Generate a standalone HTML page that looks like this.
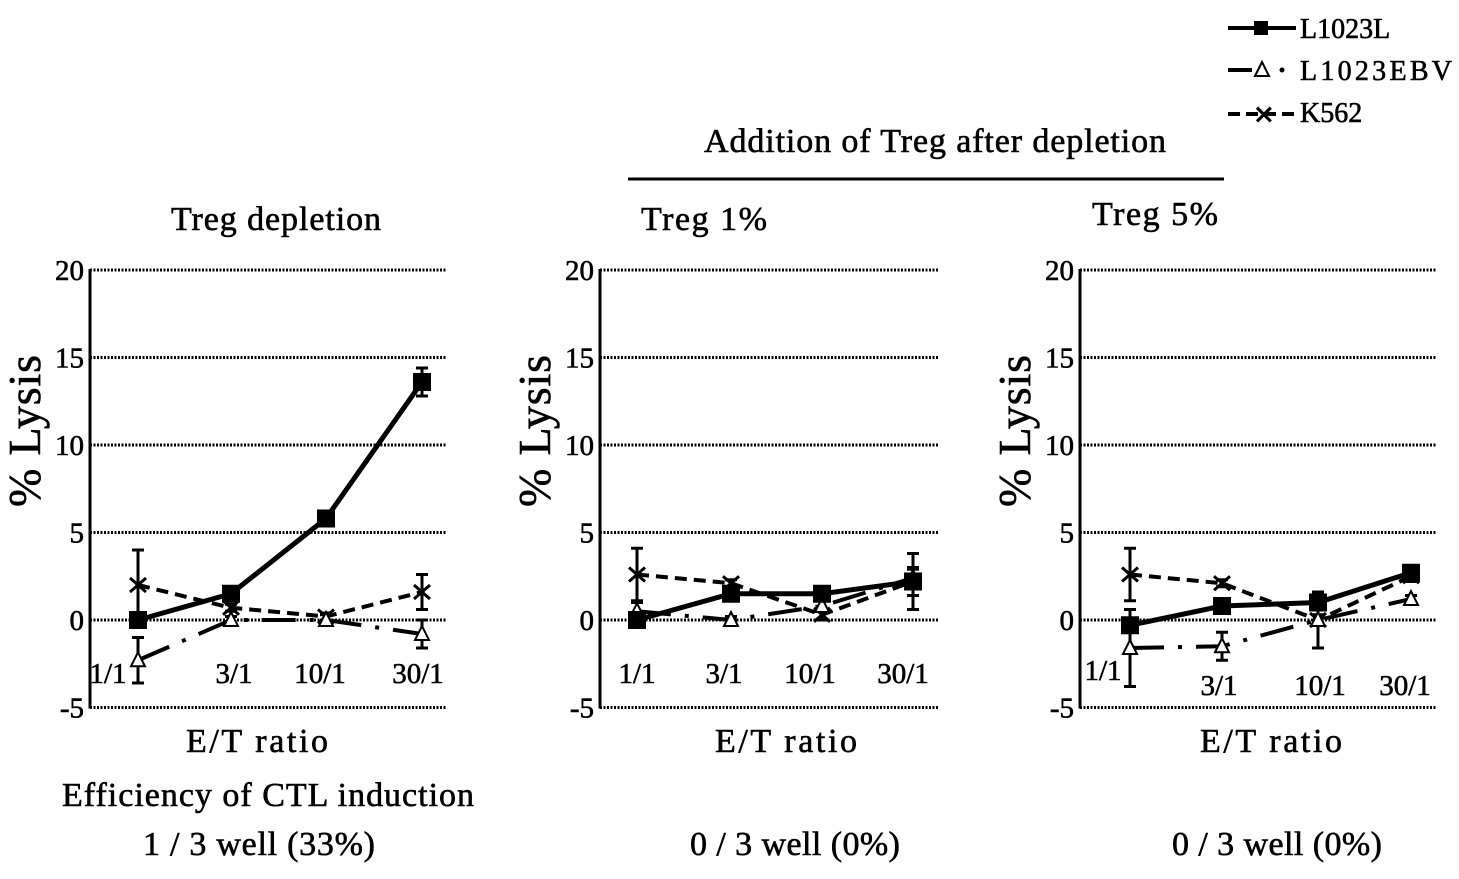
<!DOCTYPE html>
<html><head><meta charset="utf-8"><style>
body{margin:0;background:#fff;}
svg{display:block;font-family:"Liberation Serif",serif;}
text{stroke:#000;stroke-width:0.6px;}
</style></head><body>
<svg id="c" width="1459" height="879">
<g>
<line x1="1228" y1="28" x2="1296" y2="28" stroke="#000" stroke-width="4"/><rect x="1254" y="21" width="14" height="14" fill="#000"/>
<text x="1300" y="38" font-size="28">L1023L</text>
<line x1="1228" y1="70" x2="1252" y2="70" stroke="#000" stroke-width="4"/><polygon points="1262,62 1255,76 1269,76" fill="#fff" stroke="#000" stroke-width="2"/><circle cx="1282" cy="70" r="2.5"/>
<text x="1300" y="80" font-size="28" textLength="152">L1023EBV</text>
<line x1="1228" y1="114" x2="1296" y2="114" stroke="#000" stroke-width="4" stroke-dasharray="12,6"/><text x="1253" y="124" font-size="26">✕</text>
<text x="1300" y="122" font-size="28">K562</text>
</g>
<text x="935" y="152" font-size="34" text-anchor="middle" textLength="462">Addition of Treg after depletion</text>
<line x1="628" y1="179" x2="1224" y2="179" stroke="#000" stroke-width="3"/>
<text x="276" y="230" font-size="34" text-anchor="middle" textLength="210">Treg depletion</text>
<text x="704" y="230" font-size="34" text-anchor="middle" textLength="126">Treg 1%</text>
<text x="1155" y="225" font-size="34" text-anchor="middle" textLength="126">Treg 5%</text>
<text x="268" y="806" font-size="34" text-anchor="middle" textLength="412">Efficiency of CTL induction</text>
<text x="259" y="855" font-size="34" text-anchor="middle" textLength="232">1 / 3 well (33%)</text>
<text x="795" y="855" font-size="34" text-anchor="middle" textLength="210">0 / 3 well (0%)</text>
<text x="1277" y="855" font-size="34" text-anchor="middle" textLength="210">0 / 3 well (0%)</text>
</svg>
<script>
const categories=["1/1","3/1","10/1","30/1"];
const yTicks=[-5,0,5,10,15,20];
const p1L=[0,1.5,5.8,13.6], p1Le=[0.3,0.3,0.3,0.8];
const p1E=[-2.3,0,0,-0.8], p1Ee=[1.3,0.2,0.3,0.8];
const p1K=[2,0.7,0.2,1.6], p1Ke=[2,0.2,0.2,1];
const p2L=[0,1.5,1.5,2.2], p2Le=[0.3,0.3,0.3,0.8];
const p2E=[0.5,0,0.8,2.4], p2Ee=[0.5,0.2,0.3,0.5];
const p2K=[2.6,2.1,0.3,2.2], p2Ke=[1.5,0.2,0.3,1.6];
const p3L=[-0.3,0.8,1,2.7], p3Le=[0.3,0.3,0.3,0.3];
const p3E=[-1.6,-1.5,0,1.2], p3Ee=[2.2,0.8,0.3,0.2];
const p3K=[2.6,2.1,0,2.5], p3Ke=[1.5,0.2,1.6,0.3];
const NS="http://www.w3.org/2000/svg",svg=document.getElementById('c');
function mk(t,a,p){const e=document.createElementNS(NS,t);for(const k in a)e.setAttribute(k,a[k]);(p||svg).appendChild(e);return e;}
const panels=[
 {ax:90,gx:447,xs:[138,231,326,422],L:p1L,Le:p1Le,E:p1E,Ee:p1Ee,K:p1K,Ke:p1Ke,lblY:[683,683,683,683],lblX:[108,234,320,418],etx:257},
 {ax:600,gx:938,xs:[637,731,822,913],L:p2L,Le:p2Le,E:p2E,Ee:p2Ee,K:p2K,Ke:p2Ke,lblY:[683,683,683,683],lblX:[637,724,810,903],etx:786},
 {ax:1080,gx:1437,xs:[1130,1222,1318,1411],L:p3L,Le:p3Le,E:p3E,Ee:p3Ee,K:p3K,Ke:p3Ke,lblY:[680,695,695,695],lblX:[1103,1219,1320,1405],etx:1271}
];
const y=v=>620-v*17.5;
panels.forEach((p,i)=>{
 const g=mk('g',{});
 
 
 yTicks.forEach(t=>{
  mk('line',{x1:p.ax,y1:y(t),x2:p.gx,y2:y(t),stroke:'#000','stroke-width':3,'stroke-dasharray':'2,1.5'},g);
  const tx=mk('text',{x:p.ax-6,y:y(t)+10,'font-size':29,'text-anchor':'end'},g);tx.textContent=t;
 });
 mk('line',{x1:p.ax,y1:y(20)-1,x2:p.ax,y2:y(-5)+1,stroke:'#000','stroke-width':3},g);
 const yl=mk('text',{x:0,y:0,'font-size':46,'text-anchor':'middle',textLength:152,transform:`translate(${p.ax-50},${y(10.8)}) rotate(-90)`},g);yl.textContent='% Lysis';
 
 const xl=mk('text',{x:p.etx,y:752,'font-size':34,'text-anchor':'middle',textLength:142},g);xl.textContent='E/T ratio';
 
 categories.forEach((c,j)=>{const t=mk('text',{x:p.lblX[j],y:p.lblY[j],'font-size':29,'text-anchor':'middle'},g);t.textContent=c;});
 const ser=[[p.K,p.Ke,'k562','12,7'],[p.E,p.Ee,'l1023ebv','34,14,4,14'],[p.L,p.Le,'l1023l','']];
 ser.forEach(([v,e,n,d])=>{
  const sg=mk('g',{},g);
  
  
  v.forEach((val,j)=>{const x=p.xs[j];
   mk('line',{x1:x,y1:y(val+e[j]),x2:x,y2:y(val-e[j]),stroke:'#000','stroke-width':3},sg);
   mk('line',{x1:x-6,y1:y(val+e[j]),x2:x+6,y2:y(val+e[j]),stroke:'#000','stroke-width':3},sg);
   mk('line',{x1:x-6,y1:y(val-e[j]),x2:x+6,y2:y(val-e[j]),stroke:'#000','stroke-width':3},sg);});
  mk('polyline',{points:v.map((val,j)=>p.xs[j]+','+y(val)).join(' '),fill:'none',stroke:'#000','stroke-width':n==='l1023l'?5:4,'stroke-dasharray':d},sg);
  v.forEach((val,j)=>{const x=p.xs[j],yy=y(val);
   if(n==='l1023l'){const r=mk('rect',{x:x-9,y:yy-9,width:18,height:18,fill:'#000'},sg);}
   else if(n==='l1023ebv'){mk('polygon',{points:`${x},${yy-8} ${x-7},${yy+6} ${x+7},${yy+6}`,fill:'#fff',stroke:'#000','stroke-width':2},sg);}
   else{mk('path',{d:`M${x-8},${yy-7}L${x+8},${yy+7}M${x-8},${yy+7}L${x+8},${yy-7}`,stroke:'#000','stroke-width':3},sg);}
  });
 });
});
</script>
</body></html>
